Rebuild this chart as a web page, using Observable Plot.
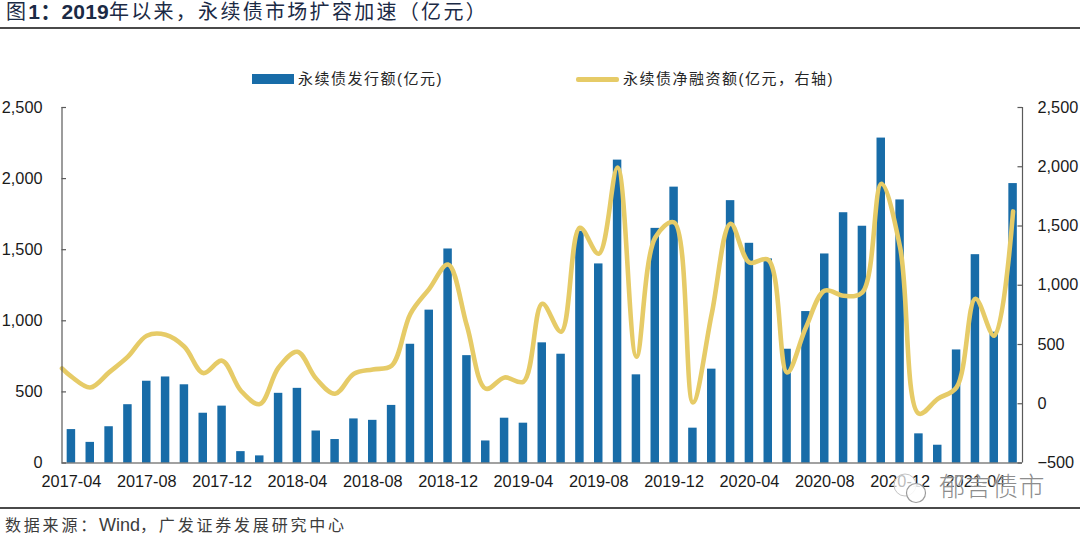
<!DOCTYPE html>
<html lang="zh-CN"><head><meta charset="utf-8">
<script src="https://cdn.jsdelivr.net/npm/d3@7"></script>
<script src="https://cdn.jsdelivr.net/npm/@observablehq/plot@0.6"></script>
<style>
html,body{margin:0;padding:0;background:#fff;width:1080px;height:535px;overflow:hidden}
body{position:relative;font-family:"Liberation Sans","Noto Sans CJK SC",sans-serif}
.abs{position:absolute;white-space:nowrap}
#chart{position:absolute;left:0;top:0}
#chart svg{display:block;background:transparent}
</style></head><body>
<div id="chart"></div>
<div class="abs" style="left:6px;top:-1px;font-size:20px;line-height:26px;color:#1b2a45;letter-spacing:2.3px;font-weight:400">图<b style="font-size:21px;letter-spacing:.2px">1&#xFF1A;2019</b>年以来&#xFF0C;永续债市场扩容加速&#xFF08;亿元&#xFF09;</div>
<div class="abs" style="left:0;top:27px;width:1080px;height:2px;background:#4a4a4a"></div>
<div class="abs" style="left:252px;top:74px;width:42px;height:10px;background:#186ca8"></div>
<div class="abs" style="left:298px;top:69px;font-size:15px;line-height:20px;letter-spacing:1.5px;color:#262626">永续债发行额(亿元)</div>
<div class="abs" style="left:576px;top:77px;width:43px;height:4.5px;border-radius:2px;background:#e6cb67"></div>
<div class="abs" style="left:623px;top:69px;font-size:15px;line-height:20px;letter-spacing:1.5px;color:#262626">永续债净融资额(亿元&#xFF0C;右轴)</div>
<div class="abs" style="left:0;top:507px;width:1080px;height:2px;background:#4a4a4a"></div>
<div class="abs" style="left:5px;top:515px;font-size:16px;line-height:20px;letter-spacing:2.8px;color:#3c3c3c">数据来源&#xFF1A;<span style="font-size:18px;letter-spacing:0">Wind</span>&#xFF0C;广发证券发展研究中心</div>
<svg class="abs" style="left:888px;top:472px" width="44" height="34" viewBox="0 0 44 34">
<circle cx="17" cy="13" r="11" fill="rgba(255,255,255,.7)" stroke="#c4c4c4" stroke-width="1"/>
<circle cx="28" cy="21" r="9.5" fill="rgba(255,255,255,.85)" stroke="#9c9c9c" stroke-width="1.2"/>
</svg>
<div class="abs" style="left:939px;top:471px;font-size:26px;line-height:32px;color:#8d8d8d;letter-spacing:.5px;font-weight:300;text-shadow:0 0 2px #fff">郁言债市</div>
<script>
const months = ["2017-04","2017-05","2017-06","2017-07","2017-08","2017-09","2017-10","2017-11","2017-12",
"2018-01","2018-02","2018-03","2018-04","2018-05","2018-06","2018-07","2018-08","2018-09","2018-10","2018-11","2018-12",
"2019-01","2019-02","2019-03","2019-04","2019-05","2019-06","2019-07","2019-08","2019-09","2019-10","2019-11","2019-12",
"2020-01","2020-02","2020-03","2020-04","2020-05","2020-06","2020-07","2020-08","2020-09","2020-10","2020-11","2020-12",
"2021-01","2021-02","2021-03","2021-04","2021-05","2021-06"];
const issuance = [235,145,255,410,575,605,550,350,400,80,50,490,525,225,165,310,300,405,835,1075,1505,
755,155,315,280,845,765,1630,1400,2130,620,1650,1940,245,660,1845,1545,1435,800,1065,1470,1760,1665,2285,1850,
205,125,795,1465,920,1965];
const netFinancing = [228,137,265,397,574,582,481,259,363,110,-3,306,439,211,84,253,290,320,759,970,1175,
658,127,222,186,844,608,1485,1266,1994,397,1403,1530,11,760,1519,1192,1215,264,644,954,911,940,1856,1320,
-84,42,138,886,574,1623];
const lineStart = 298;
const leftTicks = [0,500,1000,1500,2000,2500];
const rightTicks = [-500,0,500,1000,1500,2000,2500];

const toLeft = v => (v + 500) * 2500 / 3000;
const fmt = d3.format(",");
const bars = months.map((m,i)=>({i,m,v:issuance[i]}));
const line = [{x:0,y:toLeft(lineStart)}, ...months.map((m,i)=>({x:i+0.5,y:toLeft(netFinancing[i])}))];
const xTicks = months.map((m,i)=>i).filter(i=>i%4===0).map(i=>i+0.5);
const font = '"Liberation Sans","Noto Sans CJK SC",sans-serif';
const axisColor = "#5a5a5a";
const tickLen = 0.24;

const plot = Plot.plot({
  width:1080, height:535, marginLeft:61.5, marginRight:58, marginTop:107, marginBottom:72.5,
  style:{fontFamily:font,background:"transparent",overflow:"visible"},
  x:{type:"linear",domain:[0,51],axis:null},
  y:{domain:[0,2500],axis:null},
  marks:[
    Plot.rectY(bars,{x1:d=>d.i+0.275,x2:d=>d.i+0.725,y1:0,y2:"v",fill:"#186ca8"}),
    Plot.line(line,{x:"x",y:"y",curve:"catmull-rom",stroke:"#e6cb67",strokeWidth:4.6,strokeLinejoin:"round"}),
    Plot.ruleX([0],{stroke:axisColor,strokeWidth:1.2}),
    Plot.ruleX([51],{stroke:axisColor,strokeWidth:1.2}),
    Plot.ruleY([0],{stroke:"#444",strokeWidth:1.2}),
    Plot.ruleY(leftTicks,{x1:0,x2:tickLen,stroke:axisColor,strokeWidth:1.2}),
    Plot.ruleY(rightTicks.map(toLeft),{x1:51-tickLen,x2:51,stroke:axisColor,strokeWidth:1.2}),
    Plot.axisY({anchor:"left",ticks:leftTicks,tickSize:0,tickPadding:19.5,tickFormat:fmt,label:null,fontSize:16.3,fill:"#1a1a1a"}),
    Plot.axisY({anchor:"right",ticks:rightTicks.map(toLeft),tickSize:0,tickPadding:15,label:null,fontSize:16.3,fill:"#1a1a1a",
      tickFormat:d=>fmt(Math.round(d*3000/2500-500))}),
    Plot.axisX({anchor:"bottom",ticks:xTicks,tickSize:0,tickPadding:12,label:null,fontSize:16.3,fill:"#1a1a1a",
      tickFormat:d=>months[Math.floor(d)]})
  ]
});
document.getElementById("chart").appendChild(plot);
</script>
</body></html>
